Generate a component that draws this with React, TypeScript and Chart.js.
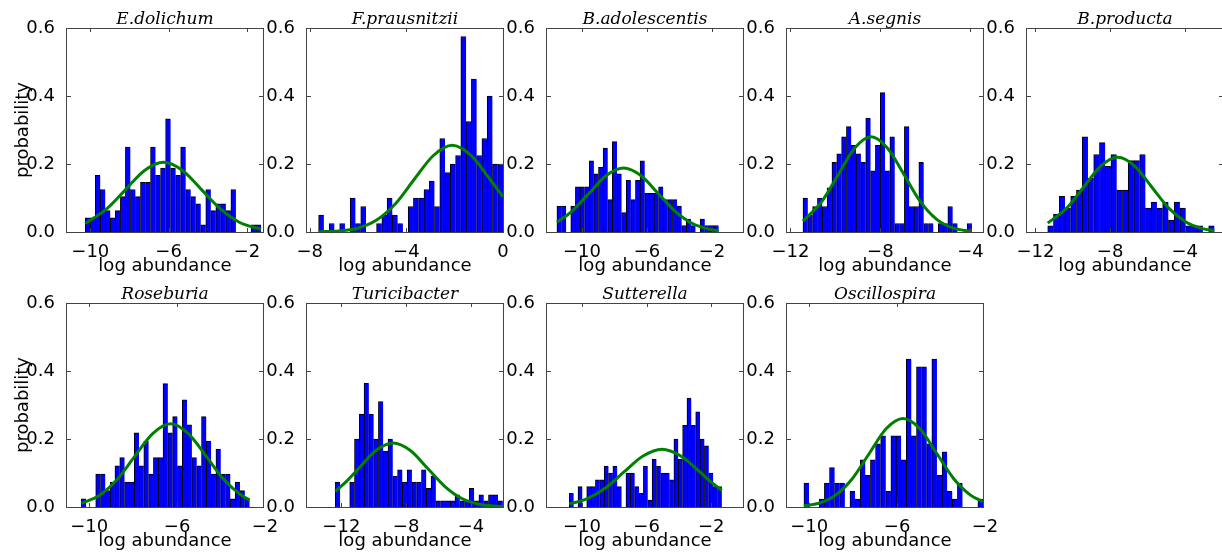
import React, { useEffect, useRef } from 'react';
import { Chart, registerables } from 'chart.js';

Chart.register(...registerables);

// ---------- data ----------
const yTicks = [0, 0.2, 0.4, 0.6];

// E.dolichum
const dolichumBins = [-10.26, -1.28];
const dolichumHeights = [0.042, 0.042, 0.167, 0.125, 0.063, 0.042, 0.063, 0.104, 0.25, 0.125, 0.104, 0.146, 0.146, 0.25, 0.167, 0.188, 0.333, 0.188, 0.167, 0.25, 0.125, 0.104, 0.083, 0.021, 0.125, 0.063, 0.083, 0.083, 0.063, 0.125, 0, 0, 0, 0.021, 0.021];
const dolichumCurveX = [-10.26, -9.18, -8.21, -7.23, -6.26, -5.29, -4.31, -3.34, -2.37, -1.28];
const dolichumCurveY = [0.025, 0.067, 0.124, 0.181, 0.205, 0.181, 0.124, 0.067, 0.028, 0.008];
const dolichumXRange = [-11.19, -1.18];
const dolichumXTicks = [-10, -6, -2];

// F.prausnitzii
const prausnitziiBins = [-7.63, 0];
const prausnitziiHeights = [0.05, 0, 0.025, 0, 0.025, 0, 0.1, 0.025, 0.075, 0, 0, 0.025, 0.05, 0.1, 0.05, 0.025, 0, 0.075, 0.1, 0.1, 0.125, 0.15, 0.075, 0.275, 0.175, 0.2, 0.225, 0.575, 0.325, 0.45, 0.225, 0.275, 0.4, 0.2, 0.2];
const prausnitziiCurveX = [-7.63, -6.8, -6.01, -5.23, -4.45, -3.67, -2.88, -2.1, -1.32, -0.54, 0];
const prausnitziiCurveY = [0.0005, 0.003, 0.011, 0.035, 0.083, 0.155, 0.225, 0.255, 0.225, 0.155, 0.104];
const prausnitziiXRange = [-8.11, 0];
const prausnitziiXTicks = [-8, -4, 0];

// B.adolescentis
const adolescentisBins = [-11.54, -1.59];
const adolescentisHeights = [0.076, 0.076, 0, 0.076, 0.133, 0.133, 0.133, 0.209, 0.171, 0.19, 0.247, 0.095, 0.266, 0.171, 0.057, 0.152, 0.095, 0.152, 0.209, 0.114, 0.114, 0.114, 0.133, 0.095, 0.095, 0.095, 0.076, 0.019, 0.038, 0.019, 0, 0.038, 0.019, 0.019, 0.019];
const adolescentisCurveX = [-11.54, -10.62, -9.56, -8.5, -7.44, -6.38, -5.32, -4.26, -3.2, -2.14, -1.59];
const adolescentisCurveY = [0.029, 0.061, 0.114, 0.166, 0.188, 0.166, 0.114, 0.061, 0.025, 0.008, 0.004];
const adolescentisXRange = [-12.15, -0.09];
const adolescentisXTicks = [-10, -6, -2];

// A.segnis
const segnisBins = [-11.44, -3.93];
const segnisHeights = [0.1, 0.05, 0.075, 0.1, 0.075, 0.13, 0.205, 0.23, 0.28, 0.31, 0.255, 0.23, 0.205, 0.335, 0.18, 0.255, 0.41, 0.18, 0.28, 0.025, 0.025, 0.31, 0.075, 0.075, 0.205, 0.025, 0.025, 0, 0.025, 0.025, 0.075, 0.025, 0, 0, 0.025];
const segnisCurveX = [-11.44, -10.59, -9.86, -9.14, -8.41, -7.69, -6.96, -6.24, -5.51, -4.79, -4.06, -3.93];
const segnisCurveY = [0.032, 0.091, 0.17, 0.247, 0.28, 0.247, 0.17, 0.091, 0.038, 0.012, 0.003, 0.002];
const segnisXRange = [-12.15, -3.44];
const segnisXTicks = [-12, -8, -4];

// B.producta
const productaBins = [-11.34, -2.41];
const productaHeights = [0.018, 0.053, 0.105, 0.07, 0.105, 0.123, 0.28, 0.158, 0.228, 0.263, 0.193, 0.228, 0.123, 0.123, 0.21, 0.21, 0.228, 0.07, 0.088, 0.07, 0.088, 0.035, 0.088, 0.07, 0.018, 0.018, 0.018, 0, 0.018];
const productaCurveX = [-11.34, -10.31, -9.4, -8.5, -7.59, -6.68, -5.78, -4.87, -3.96, -3.06, -2.41];
const productaCurveY = [0.026, 0.071, 0.133, 0.194, 0.22, 0.194, 0.133, 0.071, 0.03, 0.01, 0.004];
const productaXRange = [-12.45, -1.95];
const productaXTicks = [-12, -8, -4];

// Roseburia
const roseburiaBins = [-10.36, -2.7];
const roseburiaHeights = [0.024, 0, 0, 0.097, 0.097, 0.048, 0.073, 0.121, 0.145, 0.073, 0.073, 0.218, 0.121, 0.194, 0.097, 0.145, 0.145, 0.363, 0.218, 0.266, 0.121, 0.315, 0.242, 0.145, 0.121, 0.266, 0.194, 0.097, 0.17, 0.097, 0.097, 0.024, 0.073, 0.048, 0.024];
const roseburiaCurveX = [-10.36, -9.56, -8.74, -7.93, -7.11, -6.3, -5.49, -4.67, -3.86, -3.04, -2.7];
const roseburiaCurveY = [0.011, 0.033, 0.08, 0.149, 0.216, 0.245, 0.216, 0.149, 0.08, 0.033, 0.021];
const roseburiaXRange = [-11.01, -2.09];
const roseburiaXTicks = [-10, -6, -2];

// Turicibacter
const turicibacterBins = [-12.37, -2.03];
const turicibacterHeights = [0.073, 0, 0, 0.073, 0.2, 0.273, 0.364, 0.273, 0.2, 0.31, 0.164, 0.2, 0.091, 0.109, 0.073, 0.109, 0.073, 0.073, 0.109, 0.055, 0.091, 0.018, 0.018, 0.018, 0.018, 0.036, 0.018, 0.018, 0.055, 0.018, 0.036, 0.018, 0.036, 0.036, 0.018];
const turicibacterCurveX = [-12.37, -11.65, -10.92, -9.86, -8.8, -7.74, -6.68, -5.62, -4.56, -3.49, -2.43, -2.03];
const turicibacterCurveY = [0.046, 0.077, 0.114, 0.166, 0.188, 0.166, 0.114, 0.061, 0.025, 0.008, 0.002, 0.001];
const turicibacterXRange = [-14.12, -2.02];
const turicibacterXTicks = [-12, -8, -4];

// Sutterella
const sutterellaBins = [-10.79, -1.34];
const sutterellaHeights = [0.04, 0, 0.06, 0, 0.06, 0.06, 0.08, 0.08, 0.12, 0.1, 0.12, 0.06, 0, 0.1, 0.1, 0.06, 0.04, 0.12, 0.02, 0.14, 0.12, 0.1, 0.1, 0.08, 0.2, 0.14, 0.24, 0.32, 0.24, 0.28, 0.2, 0.18, 0.1, 0.06, 0.06];
const sutterellaCurveX = [-10.79, -9.74, -8.57, -7.4, -6.22, -5.05, -3.88, -2.7, -2.0, -1.34];
const sutterellaCurveY = [0.009, 0.023, 0.055, 0.103, 0.15, 0.17, 0.15, 0.103, 0.073, 0.049];
const sutterellaXRange = [-12.17, -0.03];
const sutterellaXTicks = [-10, -6, -2];

// Oscillospira
const oscillospiraBins = [-10.24, -2.09];
const oscillospiraHeights = [0.07, 0, 0, 0.023, 0.07, 0.116, 0.07, 0.07, 0, 0.046, 0.023, 0.139, 0.093, 0.139, 0.186, 0.209, 0.046, 0.209, 0.209, 0.139, 0.435, 0.209, 0.412, 0.412, 0.186, 0.435, 0.093, 0.162, 0.046, 0.023, 0.07, 0, 0, 0, 0.023];
const oscillospiraCurveX = [-10.24, -9.57, -8.8, -8.03, -7.26, -6.5, -5.73, -4.96, -4.2, -3.43, -2.66, -2.09];
const oscillospiraCurveY = [0.0035, 0.011, 0.035, 0.084, 0.158, 0.23, 0.26, 0.23, 0.158, 0.084, 0.035, 0.016];
const oscillospiraXRange = [-11.01, -2.09];
const oscillospiraXTicks = [-10, -6, -2];

const panels = [
  { title: 'E.dolichum', bins: dolichumBins, heights: dolichumHeights, cx: dolichumCurveX, cy: dolichumCurveY, xRange: dolichumXRange, xTicks: dolichumXTicks },
  { title: 'F.prausnitzii', bins: prausnitziiBins, heights: prausnitziiHeights, cx: prausnitziiCurveX, cy: prausnitziiCurveY, xRange: prausnitziiXRange, xTicks: prausnitziiXTicks },
  { title: 'B.adolescentis', bins: adolescentisBins, heights: adolescentisHeights, cx: adolescentisCurveX, cy: adolescentisCurveY, xRange: adolescentisXRange, xTicks: adolescentisXTicks },
  { title: 'A.segnis', bins: segnisBins, heights: segnisHeights, cx: segnisCurveX, cy: segnisCurveY, xRange: segnisXRange, xTicks: segnisXTicks },
  { title: 'B.producta', bins: productaBins, heights: productaHeights, cx: productaCurveX, cy: productaCurveY, xRange: productaXRange, xTicks: productaXTicks },
  { title: 'Roseburia', bins: roseburiaBins, heights: roseburiaHeights, cx: roseburiaCurveX, cy: roseburiaCurveY, xRange: roseburiaXRange, xTicks: roseburiaXTicks },
  { title: 'Turicibacter', bins: turicibacterBins, heights: turicibacterHeights, cx: turicibacterCurveX, cy: turicibacterCurveY, xRange: turicibacterXRange, xTicks: turicibacterXTicks },
  { title: 'Sutterella', bins: sutterellaBins, heights: sutterellaHeights, cx: sutterellaCurveX, cy: sutterellaCurveY, xRange: sutterellaXRange, xTicks: sutterellaXTicks },
  { title: 'Oscillospira', bins: oscillospiraBins, heights: oscillospiraHeights, cx: oscillospiraCurveX, cy: oscillospiraCurveY, xRange: oscillospiraXRange, xTicks: oscillospiraXTicks },
];

// ---------- layout ----------
const PLOT_LEFTS = [67, 307, 547, 787, 1027];
const PLOT_TOPS = [28, 303];
const PLOT_W = 196;
const PLOT_H = 204;
const Y_AXIS_W = 54;
const X_AXIS_H = 45;
const TITLE_H = 28;
const PAD_RIGHT = 30;
const CANVAS_W = Y_AXIS_W + PLOT_W + PAD_RIGHT;
const CANVAS_H = TITLE_H + PLOT_H + X_AXIS_H;

const fmtX = (v: number) => (v < 0 ? '\u2212' + Math.abs(v) : String(v));

const framePlugin = {
  id: 'mplFrame',
  afterDatasetsDraw(chart: any) {
    const { ctx, chartArea, scales } = chart;
    const { left, right, top, bottom } = chartArea;
    const xs = scales.x;
    const ys = scales.y;
    ctx.save();
    ctx.strokeStyle = '#444';
    ctx.lineWidth = 1;
    ctx.beginPath();
    const tl = 4;
    xs.ticks.forEach((t: any) => {
      if (t.value < xs.min || t.value > xs.max) return;
      const px = Math.round(xs.getPixelForValue(t.value)) + 0.5;
      ctx.moveTo(px, bottom);
      ctx.lineTo(px, bottom - tl);
      ctx.moveTo(px, top);
      ctx.lineTo(px, top + tl);
    });
    ys.ticks.forEach((t: any) => {
      const py = Math.round(ys.getPixelForValue(t.value)) + 0.5;
      ctx.moveTo(left, py);
      ctx.lineTo(left + tl, py);
      ctx.moveTo(right, py);
      ctx.lineTo(right - tl, py);
    });
    ctx.stroke();
    ctx.strokeRect(left - 0.5, top + 0.5, right - left + 1, bottom - top);
    ctx.restore();
  },
};

function Panel({ p, col, row }: { p: any; col: number; row: number }) {
  const ref = useRef<HTMLCanvasElement | null>(null);
  useEffect(() => {
    if (!ref.current) return;
    const n = p.heights.length;
    const w = (p.bins[1] - p.bins[0]) / n;
    const barData = p.heights.map((h: number, i: number) => ({ x: p.bins[0] + (i + 0.5) * w, y: h }));
    const curveData = p.cx.map((x: number, i: number) => ({ x, y: p.cy[i] }));
    const tickFont = { family: 'DejaVu Sans', size: 18 };
    const xTickFont = { family: 'DejaVu Sans', size: 18, lineHeight: 1 };
    const chart = new Chart(ref.current, {
      type: 'bar',
      data: {
        datasets: [
          {
            type: 'line',
            data: curveData,
            borderColor: '#008000',
            borderWidth: 3,
            pointRadius: 0,
            cubicInterpolationMode: 'monotone',
            fill: false,
            order: 0,
          } as any,
          {
            type: 'bar',
            data: barData,
            backgroundColor: '#0000ff',
            borderColor: '#000000',
            borderWidth: { top: 1, left: 1, right: 0, bottom: 0 },
            barPercentage: 1,
            categoryPercentage: 1,
            order: 1,
          } as any,
        ],
      },
      options: {
        responsive: false,
        animation: false,
        events: [],
        layout: { padding: { left: 0, right: PAD_RIGHT, top: 0, bottom: 0 } },
        plugins: {
          legend: { display: false },
          tooltip: { enabled: false },
          title: {
            display: true,
            text: p.title,
            fullSize: false,
            color: '#000',
            font: { family: 'DejaVu Serif', style: 'italic', weight: 'normal', size: 17, lineHeight: '14px' } as any,
            padding: { top: 12.5, bottom: 1.5 },
          },
        },
        scales: {
          x: {
            type: 'linear',
            min: p.xRange[0],
            max: p.xRange[1],
            bounds: 'data',
            offset: false,
            grid: { display: false },
            border: { display: false },
            ticks: { color: '#000', font: xTickFont, padding: 3, maxRotation: 0, autoSkip: false, callback: (v: any) => fmtX(Number(v)) },
            afterBuildTicks: (s: any) => {
              s.ticks = p.xTicks.map((v: number) => ({ value: v }));
            },
            afterFit: (s: any) => {
              s.height = X_AXIS_H;
            },
            title: { display: true, text: 'log abundance', color: '#000', font: tickFont, padding: { top: 0, bottom: 0 } },
          },
          y: {
            type: 'linear',
            min: 0,
            max: 0.6,
            grid: { display: false },
            border: { display: false },
            ticks: { color: '#000', font: tickFont, padding: 4, callback: (v: any) => Number(v).toFixed(1) },
            afterBuildTicks: (s: any) => {
              s.ticks = yTicks.map((v) => ({ value: v }));
            },
            afterFit: (s: any) => {
              s.width = Y_AXIS_W;
            },
            title: { display: col === 0, text: 'probability', color: '#000', font: tickFont, padding: { top: 0, bottom: 0 } },
          },
        },
      } as any,
      plugins: [framePlugin],
    });
    return () => chart.destroy();
  }, [p, col]);
  return (
    <canvas
      ref={ref}
      width={CANVAS_W}
      height={CANVAS_H}
      style={{ position: 'absolute', left: PLOT_LEFTS[col] - Y_AXIS_W, top: PLOT_TOPS[row] - TITLE_H, width: CANVAS_W, height: CANVAS_H }}
    />
  );
}

export default function App() {
  return (
    <div style={{ position: 'relative', width: 1222, height: 555, overflow: 'hidden', background: '#ffffff' }}>
      <style>{'body{margin:0;}'}</style>
      {panels.map((p, i) => {
        const row = i < 5 ? 0 : 1;
        const col = i < 5 ? i : i - 5;
        return <Panel key={p.title} p={p} col={col} row={row} />;
      })}
    </div>
  );
}
